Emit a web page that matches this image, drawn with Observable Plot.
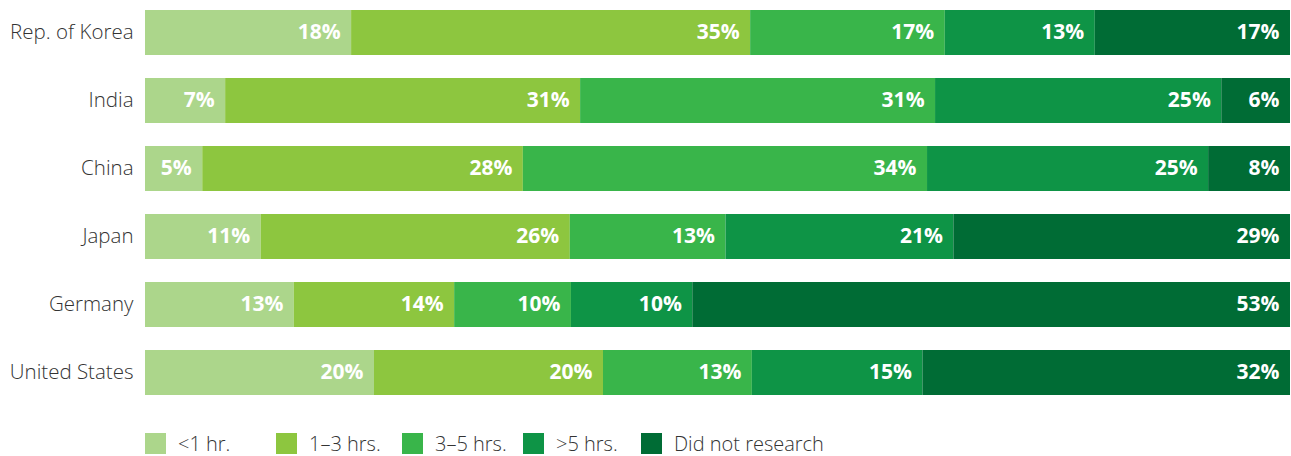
<!DOCTYPE html>
<html>
<head>
<meta charset="utf-8">
<script src="https://cdn.jsdelivr.net/npm/d3@7"></script>
<script src="https://cdn.jsdelivr.net/npm/@observablehq/plot@0.6"></script>
<style>
  html, body { margin: 0; padding: 0; background: #fff; }
  body { width: 1291px; height: 456px; overflow: hidden; font-family: "Open Sans", sans-serif; position: relative; }
  #legend { position: absolute; left: 0; top: 433px; height: 21px; width: 1291px; }
  .item { position: absolute; top: 0; display: flex; align-items: center; }
  .sw { width: 21px; height: 21px; margin-right: 12px; }
  .lbl { font-size: 20px; font-weight: 300; color: #333; line-height: 21px; white-space: nowrap; }
</style>
</head>
<body>
<div id="chart"></div>
<div id="legend"></div>
<script>
const countries = ["Rep. of Korea", "India", "China", "Japan", "Germany", "United States"];
const categories = ["<1 hr.", "1–3 hrs.", "3–5 hrs.", ">5 hrs.", "Did not research"];
const colors = ["#acd68b", "#8dc63f", "#39b54a", "#0e9446", "#006c35"];

// bar lengths (share of 100) as drawn
const lessThan1 = [18.0, 7.0, 5.0, 10.1, 13.0, 20.0];
const oneToThree = [34.85, 31.0, 28.0, 27.0, 14.0, 20.0];
const threeToFive = [17.0, 31.0, 35.3, 13.6, 10.2, 13.0];
const moreThan5 = [13.1, 25.0, 24.55, 19.9, 10.6, 14.9];
const didNot = [17.05, 6.0, 7.15, 29.4, 52.2, 32.1];

// printed percentage labels
const lessThan1Label = [18, 7, 5, 11, 13, 20];
const oneToThreeLabel = [35, 31, 28, 26, 14, 20];
const threeToFiveLabel = [17, 31, 34, 13, 10, 13];
const moreThan5Label = [13, 25, 25, 21, 10, 15];
const didNotLabel = [17, 6, 8, 29, 53, 32];

const series = [lessThan1, oneToThree, threeToFive, moreThan5, didNot];
const labels = [lessThan1Label, oneToThreeLabel, threeToFiveLabel, moreThan5Label, didNotLabel];
const data = [];
countries.forEach((c, i) => {
  categories.forEach((cat, j) => {
    data.push({country: c, category: cat, value: series[j][i], label: labels[j][i] + "%"});
  });
});

const chart = Plot.plot({
  width: 1291,
  height: 400,
  marginTop: 9,
  marginBottom: 5,
  marginLeft: 145,
  marginRight: 1,
  style: {fontFamily: "Open Sans, sans-serif", background: "#fff"},
  x: {domain: [0, 100], axis: null},
  y: {domain: countries, paddingInner: 0.34, paddingOuter: 0, label: null},
  color: {domain: categories, range: colors},
  marks: [
    Plot.barX(data, Plot.stackX({x: "value", y: "country", z: "category", fill: "category"})),
    Plot.text(data, Plot.stackX2({
      x: "value", y: "country", z: "category",
      text: "label",
      textAnchor: "end", dx: -11, dy: -1, fill: "white",
      fontSize: 21, fontWeight: "bold"
    })),
    Plot.axisY({tickSize: 0, tickPadding: 12, dy: -1, fontSize: 20.5, fontWeight: 300, fill: "#333", label: null})
  ]
});
document.getElementById("chart").appendChild(chart);

const legendLeft = [145, 276, 402, 523, 641];
const legend = d3.select("#legend");
categories.forEach((cat, i) => {
  const item = legend.append("div").attr("class", "item").style("left", legendLeft[i] + "px");
  item.append("div").attr("class", "sw").style("background", colors[i]);
  item.append("span").attr("class", "lbl").text(cat);
});
</script>
</body>
</html>
